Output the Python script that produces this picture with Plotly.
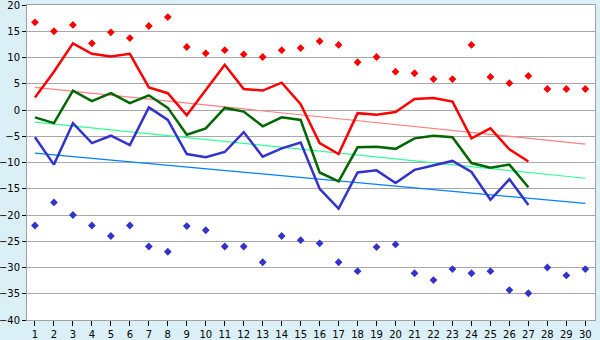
import plotly.graph_objects as go

days = list(range(1, 31))

# Daily extremes (points)
max_points = [16.7, 15.0, 16.2, 12.7, 14.8, 13.7, 16.0, 17.7, 12.0, 10.8,
              11.4, 10.6, 10.1, 11.4, 11.8, 13.1, 12.4, 9.1, 10.1, 7.3,
              7.0, 5.9, 5.9, 12.4, 6.3, 5.1, 6.5, 4.0, 4.0, 4.0]
min_points = [-22.0, -17.6, -20.0, -22.0, -24.0, -22.0, -26.0, -27.0, -22.1, -22.9,
              -26.0, -26.0, -29.0, -24.0, -24.8, -25.4, -29.0, -30.7, -26.1, -25.6,
              -31.1, -32.4, -30.3, -31.1, -30.7, -34.3, -34.9, -30.0, -31.5, -30.3]

# Measured series (days 1-27)
line_days = list(range(1, 28))
red_line = [2.4, 7.3, 12.7, 10.7, 10.2, 10.7, 4.3, 3.2, -1.0, 3.8,
            8.6, 4.0, 3.7, 5.2, 1.1, -6.3, -8.4, -0.6, -0.9, -0.4,
            2.1, 2.3, 1.6, -5.4, -3.5, -7.5, -9.8]
green_line = [-1.4, -2.5, 3.7, 1.7, 3.2, 1.3, 2.8, 0.4, -4.7, -3.5,
              0.4, -0.3, -3.1, -1.4, -1.9, -11.9, -13.6, -7.1, -7.0, -7.4,
              -5.4, -4.9, -5.2, -10.1, -11.0, -10.4, -14.7]
blue_line = [-5.2, -10.4, -2.5, -6.3, -4.9, -6.7, 0.5, -1.9, -8.4, -9.0,
             -8.0, -4.2, -8.9, -7.3, -6.2, -15.0, -18.8, -11.9, -11.5, -13.9,
             -11.4, -10.6, -9.7, -11.8, -17.1, -13.2, -18.1]

# Linear trends, start/end values over days 1-30
trend_days = [1, 30]
red_trend = [4.3, -6.5]
green_trend = [-2.3, -13.0]
blue_trend = [-8.2, -17.8]

fig = go.Figure()

for ys, col in [(red_trend, "#FF8080"), (green_trend, "#33FF99"), (blue_trend, "#0080FF")]:
    fig.add_trace(go.Scatter(x=trend_days, y=ys, mode="lines",
                             line=dict(color=col, width=1.2), hoverinfo="skip"))

for ys, col in [(red_line, "#FF0000"), (green_line, "#006600"), (blue_line, "#3333CC")]:
    fig.add_trace(go.Scatter(x=line_days, y=ys, mode="lines",
                             line=dict(color=col, width=2.5)))

fig.add_trace(go.Scatter(x=days, y=max_points, mode="markers",
                         marker=dict(symbol="diamond", size=6, color="#FF0000")))
fig.add_trace(go.Scatter(x=days, y=min_points, mode="markers",
                         marker=dict(symbol="diamond", size=6, color="#3333CC")))

fig.update_layout(
    width=600, height=340,
    margin=dict(l=27, r=5, t=5, b=20),
    paper_bgcolor="#DAF0F6",
    plot_bgcolor="#FFFFFF",
    showlegend=False,
    font=dict(family="DejaVu Sans", size=10, color="#000000"),
)
fig.update_xaxes(
    range=[0.58, 30.51], tickmode="array", tickvals=days,
    ticks="outside", ticklen=5, tickcolor="#000000",
    showgrid=False, showline=True, linecolor="#A0A0A0", linewidth=1,
    mirror=True, zeroline=False, automargin=False,
    ticklabeloverflow="allow",
)
fig.update_yaxes(
    range=[-40, 20], dtick=5, tick0=0,
    ticks="outside", ticklen=4, tickcolor="#000000",
    showgrid=True, gridcolor="#A8A8A8", gridwidth=1,
    showline=True, linecolor="#A0A0A0", linewidth=1,
    mirror=True, zeroline=False, automargin=False,
    ticklabeloverflow="allow",
)

fig.write_html("out.html")
